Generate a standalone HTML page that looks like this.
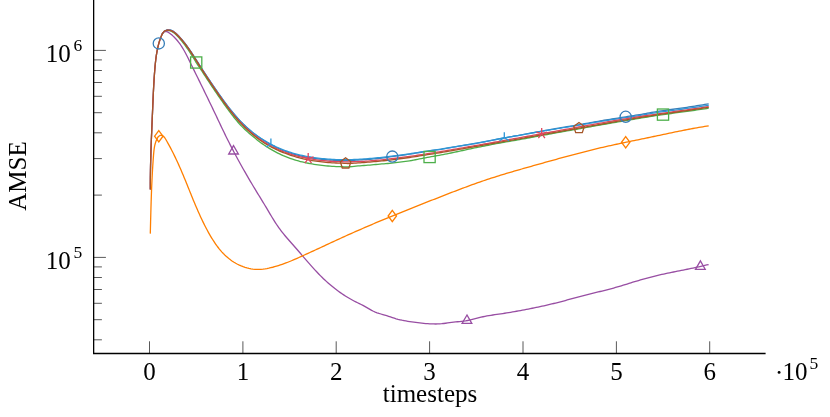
<!DOCTYPE html>
<html><head><meta charset="utf-8"><title>AMSE</title>
<style>
html,body{margin:0;padding:0;background:#fff;}
body{width:830px;height:417px;overflow:hidden;font-family:"Liberation Serif",serif;}
svg{display:block;will-change:transform}
.t{font-family:"Liberation Serif",serif;font-size:25px;fill:#000}
.s{font-family:"Liberation Serif",serif;font-size:17.5px;fill:#000}
.tk{stroke:#222;stroke-width:0.75}
.mtk{stroke:#222;stroke-width:0.75}
</style></head><body>
<svg width="830" height="417" viewBox="0 0 830 417">
<rect width="830" height="417" fill="#fff"/>
<line x1="149.5" y1="353.5" x2="149.5" y2="341.3" class="tk"/>
<line x1="242.9" y1="353.5" x2="242.9" y2="341.3" class="tk"/>
<line x1="336.2" y1="353.5" x2="336.2" y2="341.3" class="tk"/>
<line x1="429.6" y1="353.5" x2="429.6" y2="341.3" class="tk"/>
<line x1="523.0" y1="353.5" x2="523.0" y2="341.3" class="tk"/>
<line x1="616.4" y1="353.5" x2="616.4" y2="341.3" class="tk"/>
<line x1="709.7" y1="353.5" x2="709.7" y2="341.3" class="tk"/>
<line x1="93.65" y1="50.4" x2="105.9" y2="50.4" class="tk"/>
<line x1="93.65" y1="257.4" x2="105.9" y2="257.4" class="tk"/>
<line x1="93.65" y1="195.1" x2="101.9" y2="195.1" class="mtk"/>
<line x1="93.65" y1="158.6" x2="101.9" y2="158.6" class="mtk"/>
<line x1="93.65" y1="132.8" x2="101.9" y2="132.8" class="mtk"/>
<line x1="93.65" y1="112.7" x2="101.9" y2="112.7" class="mtk"/>
<line x1="93.65" y1="96.3" x2="101.9" y2="96.3" class="mtk"/>
<line x1="93.65" y1="82.5" x2="101.9" y2="82.5" class="mtk"/>
<line x1="93.65" y1="70.5" x2="101.9" y2="70.5" class="mtk"/>
<line x1="93.65" y1="59.9" x2="101.9" y2="59.9" class="mtk"/>
<line x1="93.65" y1="339.8" x2="101.9" y2="339.8" class="mtk"/>
<line x1="93.65" y1="319.7" x2="101.9" y2="319.7" class="mtk"/>
<line x1="93.65" y1="303.3" x2="101.9" y2="303.3" class="mtk"/>
<line x1="93.65" y1="289.5" x2="101.9" y2="289.5" class="mtk"/>
<line x1="93.65" y1="277.5" x2="101.9" y2="277.5" class="mtk"/>
<line x1="93.65" y1="266.9" x2="101.9" y2="266.9" class="mtk"/>
<path d="M93.65 0 L93.65 353.5 L765.6 353.5" fill="none" stroke="#000" stroke-width="1.3" stroke-linejoin="miter"/>
<g fill="none" stroke-width="1.3" stroke-linejoin="round">
<path d="M150.34 189.60 L150.33 187.61 L150.33 185.61 L150.33 183.61 L150.34 181.62 L150.35 179.62 L150.37 177.62 L150.39 175.63 L150.42 173.63 L150.45 171.64 L150.48 169.64 L150.52 167.65 L150.56 165.65 L150.61 163.66 L150.65 161.66 L150.71 159.67 L150.76 157.67 L150.82 155.68 L150.88 153.69 L150.94 151.69 L151.01 149.70 L151.08 147.70 L151.15 145.71 L151.22 143.72 L151.29 141.72 L151.37 139.73 L151.44 137.74 L151.52 135.74 L151.60 133.75 L151.69 131.75 L151.77 129.76 L151.85 127.77 L151.93 125.77 L152.02 123.78 L152.10 121.79 L152.19 119.79 L152.27 117.80 L152.36 115.80 L152.44 113.81 L152.53 111.82 L152.61 109.82 L152.70 107.83 L152.78 105.83 L152.86 103.84 L152.95 101.84 L153.03 99.85 L153.12 97.85 L153.21 95.86 L153.30 93.86 L153.40 91.87 L153.49 89.88 L153.60 87.88 L153.70 85.89 L153.81 83.90 L153.93 81.91 L154.05 79.91 L154.18 77.92 L154.31 75.93 L154.45 73.94 L154.60 71.95 L154.76 69.97 L154.92 67.98 L155.10 65.99 L155.29 64.01 L155.50 62.03 L155.72 60.05 L155.97 58.07 L156.24 56.10 L156.54 54.13 L156.88 52.16 L157.24 50.20 L157.64 48.24 L158.08 46.29 L158.57 44.35 L159.10 42.42 L159.69 40.50 L160.35 38.60 L161.07 36.71 L161.86 34.84 L162.77 33.04 L163.98 31.55 L165.62 30.55 L167.48 29.92 L169.36 29.89 L171.15 30.34 L172.87 31.16 L174.51 32.27 L176.09 33.59 L177.60 35.04 L179.06 36.55 L180.46 38.08 L181.81 39.62 L183.12 41.18 L184.39 42.76 L185.62 44.35 L186.81 45.95 L187.98 47.57 L189.11 49.19 L190.23 50.82 L191.32 52.45 L192.40 54.09 L193.47 55.73 L194.53 57.38 L195.58 59.04 L196.64 60.69 L197.69 62.35 L198.76 64.01 L199.82 65.67 L200.89 67.33 L201.97 69.00 L203.05 70.66 L204.14 72.32 L205.23 73.98 L206.32 75.64 L207.42 77.30 L208.53 78.96 L209.63 80.62 L210.75 82.27 L211.86 83.92 L212.98 85.57 L214.11 87.21 L215.23 88.86 L216.37 90.49 L217.50 92.13 L218.64 93.76 L219.78 95.38 L220.93 97.00 L222.07 98.61 L223.23 100.22 L224.39 101.82 L225.56 103.41 L226.74 104.99 L227.93 106.56 L229.13 108.13 L230.34 109.68 L231.57 111.22 L232.82 112.75 L234.08 114.26 L235.35 115.77 L236.65 117.25 L237.97 118.73 L239.31 120.18 L240.68 121.63 L242.07 123.05 L243.48 124.45 L244.91 125.84 L246.37 127.21 L247.85 128.55 L249.35 129.87 L250.87 131.16 L252.41 132.43 L253.97 133.67 L255.56 134.88 L257.16 136.05 L258.78 137.20 L260.42 138.32 L262.08 139.41 L263.76 140.49 L265.45 141.54 L267.16 142.58 L268.89 143.58 L270.63 144.57 L272.39 145.52 L274.17 146.44 L275.96 147.34 L277.76 148.19 L279.58 149.02 L281.41 149.80 L283.25 150.54 L285.11 151.24 L286.97 151.91 L288.85 152.56 L290.74 153.17 L292.64 153.76 L294.55 154.32 L296.47 154.85 L298.40 155.35 L300.33 155.83 L302.28 156.29 L304.23 156.71 L306.19 157.10 L308.15 157.45 L310.12 157.78 L312.10 158.08 L314.08 158.36 L316.07 158.62 L318.05 158.87 L320.05 159.11 L322.04 159.34 L324.04 159.55 L326.04 159.73 L328.05 159.90 L330.05 160.05 L332.05 160.18 L334.06 160.29 L336.06 160.38 L338.07 160.46 L340.07 160.52 L342.07 160.55 L344.07 160.55 L346.06 160.53 L348.06 160.49 L350.05 160.43 L352.04 160.35 L354.04 160.24 L356.03 160.12 L358.01 160.00 L360.00 159.89 L361.99 159.77 L363.97 159.65 L365.96 159.52 L367.94 159.39 L369.92 159.24 L371.91 159.08 L373.89 158.91 L375.87 158.73 L377.85 158.54 L379.83 158.33 L381.81 158.10 L383.79 157.84 L385.77 157.55 L387.75 157.24 L389.73 156.94 L391.71 156.65 L393.69 156.37 L395.67 156.09 L397.65 155.81 L399.63 155.54 L401.62 155.28 L403.60 155.01 L405.58 154.74 L407.56 154.47 L409.53 154.19 L411.51 153.89 L413.49 153.56 L415.47 153.21 L417.45 152.87 L419.42 152.54 L421.40 152.24 L423.37 151.93 L425.35 151.63 L427.32 151.32 L429.29 151.01 L431.26 150.70 L433.24 150.42 L435.21 150.16 L437.18 149.90 L439.14 149.61 L441.11 149.28 L443.08 148.94 L445.05 148.58 L447.02 148.22 L448.98 147.87 L450.95 147.53 L452.91 147.20 L454.88 146.87 L456.84 146.54 L458.81 146.22 L460.77 145.90 L462.74 145.57 L464.70 145.25 L466.67 144.92 L468.63 144.60 L470.59 144.27 L472.56 143.94 L474.52 143.60 L476.49 143.27 L478.45 142.92 L480.41 142.58 L482.38 142.22 L484.34 141.85 L486.30 141.47 L488.27 141.08 L490.23 140.68 L492.20 140.28 L494.16 139.89 L496.12 139.49 L498.09 139.10 L500.05 138.72 L502.02 138.35 L503.98 137.98 L505.95 137.63 L507.91 137.28 L509.87 136.93 L511.84 136.58 L513.80 136.23 L515.77 135.88 L517.73 135.52 L519.70 135.17 L521.66 134.82 L523.63 134.46 L525.59 134.10 L527.55 133.73 L529.52 133.36 L531.48 133.00 L533.45 132.63 L535.41 132.26 L537.38 131.90 L539.34 131.54 L541.30 131.18 L543.27 130.83 L545.23 130.48 L547.20 130.13 L549.16 129.78 L551.12 129.44 L553.09 129.09 L555.05 128.75 L557.02 128.41 L558.98 128.07 L560.94 127.73 L562.91 127.40 L564.87 127.07 L566.83 126.76 L568.80 126.44 L570.76 126.13 L572.72 125.81 L574.69 125.48 L576.65 125.15 L578.61 124.80 L580.58 124.45 L582.54 124.09 L584.50 123.74 L586.47 123.38 L588.43 123.03 L590.40 122.68 L592.36 122.33 L594.32 121.98 L596.29 121.63 L598.25 121.28 L600.22 120.93 L602.18 120.59 L604.15 120.26 L606.11 119.93 L608.08 119.61 L610.05 119.29 L612.01 118.98 L613.98 118.67 L615.95 118.36 L617.91 118.05 L619.88 117.74 L621.85 117.42 L623.82 117.11 L625.79 116.79 L627.76 116.47 L629.73 116.15 L631.70 115.84 L633.67 115.53 L635.64 115.22 L637.61 114.91 L639.58 114.60 L641.55 114.28 L643.53 113.94 L645.50 113.59 L647.47 113.23 L649.45 112.87 L651.42 112.51 L653.40 112.16 L655.37 111.81 L657.35 111.47 L659.32 111.14 L661.30 110.83 L663.28 110.54 L665.25 110.27 L667.23 110.01 L669.20 109.75 L671.18 109.50 L673.16 109.24 L675.13 108.97 L677.11 108.70 L679.08 108.42 L681.06 108.13 L683.04 107.85 L685.01 107.56 L686.99 107.27 L688.96 106.98 L690.94 106.68 L692.91 106.38 L694.89 106.07 L696.86 105.76 L698.83 105.45 L700.81 105.13 L702.78 104.80 L704.75 104.47 L706.73 104.13 L708.70 103.79" stroke="#377eb8"/>
<path d="M161.86 34.84 L162.77 33.04 L163.98 31.55 L165.62 30.55 L167.48 30.42 L169.36 30.69 L171.15 31.25 L172.87 32.14 L174.51 33.35 L176.09 34.76 L177.60 36.30 L179.06 37.89 L180.46 39.51 L181.81 41.13 L183.12 42.77 L184.39 44.42 L185.62 46.09 L186.81 47.76 L187.98 49.45 L189.11 51.14 L190.23 52.83 L191.32 54.53 L192.40 56.25 L193.47 57.98 L194.53 59.76 L195.58 61.54 L196.64 63.24 L197.69 64.86 L198.76 66.44 L199.82 68.01 L200.89 69.60 L201.97 71.23 L203.05 72.90 L204.14 74.57 L205.23 76.25 L206.32 77.92 L207.42 79.59 L208.53 81.26 L209.63 82.94 L210.75 84.61 L211.86 86.28 L212.98 87.94 L214.11 89.61 L215.23 91.28 L216.37 92.94 L217.50 94.60 L218.64 96.26 L219.78 97.91 L220.93 99.56 L222.07 101.21 L223.23 102.87 L224.39 104.52 L225.56 106.17 L226.74 107.81 L227.93 109.45 L229.13 111.08 L230.34 112.70 L231.57 114.30 L232.82 115.91 L234.08 117.51 L235.35 119.10 L236.65 120.68 L237.97 122.22 L239.31 123.73 L240.68 125.20 L242.07 126.63 L243.48 128.04 L244.91 129.42 L246.37 130.79 L247.85 132.13 L249.35 133.45 L250.87 134.75 L252.41 136.04 L253.97 137.33 L255.56 138.62 L257.16 139.89 L258.78 141.16 L260.42 142.40 L262.08 143.61 L263.76 144.78 L265.45 145.91 L267.16 147.02 L268.89 148.10 L270.63 149.15 L272.39 150.17 L274.17 151.16 L275.96 152.12 L277.76 153.05 L279.58 153.94 L281.41 154.79 L283.25 155.61 L285.11 156.39 L286.97 157.14 L288.85 157.86 L290.74 158.55 L292.64 159.21 L294.55 159.84 L296.47 160.44 L298.40 160.99 L300.33 161.51 L302.28 161.99 L304.23 162.44 L306.19 162.86 L308.15 163.25 L310.12 163.62 L312.10 163.96 L314.08 164.28 L316.07 164.58 L318.05 164.86 L320.05 165.12 L322.04 165.36 L324.04 165.59 L326.04 165.80 L328.05 165.99 L330.05 166.16 L332.05 166.32 L334.06 166.45 L336.06 166.56 L338.07 166.65 L340.07 166.72 L342.07 166.76 L344.07 166.79 L346.06 166.80 L348.06 166.80 L350.05 166.73 L352.04 166.58 L354.04 166.38 L356.03 166.15 L358.01 165.95 L360.00 165.79 L361.99 165.65 L363.97 165.51 L365.96 165.36 L367.94 165.21 L369.92 165.04 L371.91 164.87 L373.89 164.69 L375.87 164.51 L377.85 164.32 L379.83 164.13 L381.81 163.95 L383.79 163.79 L385.77 163.65 L387.75 163.50 L389.73 163.33 L391.71 163.13 L393.69 162.89 L395.67 162.61 L397.65 162.32 L399.63 162.04 L401.62 161.79 L403.60 161.54 L405.58 161.30 L407.56 161.05 L409.53 160.79 L411.51 160.49 L413.49 160.14 L415.47 159.75 L417.45 159.36 L419.42 158.96 L421.40 158.58 L423.37 158.18 L425.35 157.78 L427.32 157.39 L429.29 157.02 L431.26 156.67 L433.24 156.34 L435.21 156.00 L437.18 155.67 L439.14 155.32 L441.11 154.97 L443.08 154.59 L445.05 154.20 L447.02 153.80 L448.98 153.40 L450.95 153.00 L452.91 152.59 L454.88 152.18 L456.84 151.76 L458.81 151.34 L460.77 150.91 L462.74 150.49 L464.70 150.06 L466.67 149.63 L468.63 149.21 L470.59 148.79 L472.56 148.37 L474.52 147.96 L476.49 147.55 L478.45 147.16 L480.41 146.77 L482.38 146.39 L484.34 146.00 L486.30 145.62 L488.27 145.24 L490.23 144.86 L492.20 144.48 L494.16 144.10 L496.12 143.73 L498.09 143.36 L500.05 143.00 L502.02 142.64 L503.98 142.28 L505.95 141.94 L507.91 141.60 L509.87 141.26 L511.84 140.93 L513.80 140.59 L515.77 140.26 L517.73 139.92 L519.70 139.57 L521.66 139.22 L523.63 138.86 L525.59 138.50 L527.55 138.13 L529.52 137.76 L531.48 137.40 L533.45 137.03 L535.41 136.66 L537.38 136.30 L539.34 135.94 L541.30 135.58 L543.27 135.22 L545.23 134.87 L547.20 134.51 L549.16 134.16 L551.12 133.80 L553.09 133.45 L555.05 133.09 L557.02 132.73 L558.98 132.38 L560.94 132.02 L562.91 131.67 L564.87 131.32 L566.83 130.97 L568.80 130.63 L570.76 130.29 L572.72 129.95 L574.69 129.60 L576.65 129.25 L578.61 128.90 L580.58 128.55 L582.54 128.19 L584.50 127.84 L586.47 127.48 L588.43 127.13 L590.40 126.78 L592.36 126.43 L594.32 126.08 L596.29 125.73 L598.25 125.38 L600.22 125.03 L602.18 124.69 L604.15 124.34 L606.11 124.00 L608.08 123.65 L610.05 123.30 L612.01 122.96 L613.98 122.62 L615.95 122.27 L617.91 121.93 L619.88 121.59 L621.85 121.26 L623.82 120.92 L625.79 120.59 L627.76 120.26 L629.73 119.93 L631.70 119.60 L633.67 119.27 L635.64 118.94 L637.61 118.62 L639.58 118.29 L641.55 117.97 L643.53 117.64 L645.50 117.32 L647.47 116.99 L649.45 116.67 L651.42 116.35 L653.40 116.04 L655.37 115.72 L657.35 115.42 L659.32 115.12 L661.30 114.83 L663.28 114.54 L665.25 114.27 L667.23 114.00 L669.20 113.75 L671.18 113.49 L673.16 113.23 L675.13 112.97 L677.11 112.70 L679.08 112.43 L681.06 112.16 L683.04 111.89 L685.01 111.62 L686.99 111.35 L688.96 111.07 L690.94 110.79 L692.91 110.52 L694.89 110.24 L696.86 109.95 L698.83 109.67 L700.81 109.38 L702.78 109.09 L704.75 108.79 L706.73 108.49 L708.70 108.19" stroke="#4daf4a"/>
<path d="M161.87 34.55 L162.91 32.81 L164.24 31.63 L165.83 31.34 L167.54 31.89 L169.28 32.97 L170.96 34.27 L172.56 35.62 L174.06 37.03 L175.49 38.49 L176.84 39.99 L178.12 41.53 L179.33 43.12 L180.49 44.74 L181.59 46.39 L182.65 48.07 L183.66 49.78 L184.64 51.51 L185.59 53.26 L186.51 55.02 L187.41 56.80 L188.30 58.58 L189.19 60.37 L190.07 62.17 L190.95 63.96 L191.83 65.75 L192.71 67.54 L193.59 69.34 L194.47 71.13 L195.35 72.92 L196.23 74.72 L197.11 76.51 L198.00 78.31 L198.88 80.10 L199.76 81.90 L200.64 83.69 L201.52 85.49 L202.40 87.28 L203.27 89.08 L204.15 90.88 L205.03 92.67 L205.90 94.47 L206.78 96.27 L207.65 98.07 L208.52 99.87 L209.39 101.67 L210.26 103.47 L211.13 105.27 L211.99 107.07 L212.85 108.87 L213.71 110.68 L214.57 112.48 L215.43 114.29 L216.29 116.09 L217.14 117.90 L217.99 119.70 L218.85 121.51 L219.71 123.31 L220.56 125.12 L221.42 126.92 L222.28 128.72 L223.15 130.52 L224.02 132.32 L224.89 134.12 L225.76 135.91 L226.65 137.70 L227.53 139.49 L228.43 141.28 L229.33 143.06 L230.23 144.84 L231.14 146.62 L232.06 148.39 L232.98 150.16 L233.91 151.93 L234.85 153.69 L235.79 155.46 L236.74 157.22 L237.69 158.97 L238.64 160.73 L239.61 162.48 L240.57 164.23 L241.55 165.97 L242.52 167.72 L243.50 169.46 L244.49 171.19 L245.48 172.93 L246.48 174.66 L247.48 176.39 L248.49 178.12 L249.50 179.84 L250.51 181.56 L251.53 183.28 L252.55 185.00 L253.58 186.72 L254.61 188.43 L255.65 190.14 L256.69 191.84 L257.73 193.55 L258.77 195.25 L259.81 196.96 L260.86 198.66 L261.90 200.36 L262.94 202.07 L263.98 203.77 L265.01 205.48 L266.04 207.19 L267.07 208.90 L268.09 210.62 L269.11 212.34 L270.12 214.06 L271.14 215.78 L272.17 217.49 L273.21 219.19 L274.27 220.89 L275.35 222.57 L276.45 224.24 L277.58 225.90 L278.73 227.54 L279.91 229.16 L281.11 230.77 L282.33 232.36 L283.57 233.93 L284.84 235.47 L286.12 237.00 L287.42 238.51 L288.74 240.01 L290.06 241.50 L291.38 242.99 L292.71 244.48 L294.03 245.98 L295.34 247.48 L296.65 248.99 L297.96 250.50 L299.26 252.02 L300.57 253.54 L301.87 255.06 L303.17 256.58 L304.48 258.10 L305.78 259.61 L307.09 261.13 L308.41 262.64 L309.73 264.14 L311.05 265.64 L312.38 267.13 L313.73 268.62 L315.08 270.09 L316.44 271.55 L317.81 273.00 L319.20 274.44 L320.60 275.86 L322.01 277.27 L323.44 278.66 L324.88 280.04 L326.35 281.39 L327.83 282.73 L329.33 284.05 L330.85 285.34 L332.39 286.61 L333.94 287.86 L335.52 289.09 L337.11 290.29 L338.73 291.47 L340.36 292.63 L342.00 293.76 L343.67 294.87 L345.35 295.95 L347.05 297.00 L348.76 298.03 L350.49 299.03 L352.24 300.00 L354.00 300.95 L355.78 301.87 L357.57 302.76 L359.36 303.64 L361.16 304.53 L362.94 305.43 L364.71 306.37 L366.46 307.35 L368.19 308.36 L369.92 309.38 L371.66 310.36 L373.42 311.28 L375.23 312.11 L377.08 312.82 L378.98 313.44 L380.90 314.00 L382.83 314.54 L384.76 315.08 L386.68 315.66 L388.58 316.28 L390.48 316.92 L392.37 317.56 L394.27 318.18 L396.17 318.76 L398.09 319.29 L400.03 319.76 L401.97 320.20 L403.93 320.59 L405.89 320.95 L407.86 321.29 L409.84 321.59 L411.82 321.88 L413.81 322.15 L415.80 322.41 L417.78 322.66 L419.77 322.91 L421.76 323.13 L423.75 323.35 L425.74 323.53 L427.73 323.69 L429.72 323.83 L431.71 323.92 L433.70 323.97 L435.69 323.99 L437.68 323.95 L439.67 323.86 L441.66 323.71 L443.65 323.50 L445.64 323.25 L447.63 322.97 L449.62 322.69 L451.61 322.42 L453.61 322.18 L455.60 321.97 L457.59 321.77 L459.58 321.57 L461.56 321.36 L463.54 321.12 L465.50 320.84 L467.47 320.51 L469.42 320.11 L471.36 319.67 L473.30 319.19 L475.24 318.69 L477.18 318.18 L479.12 317.68 L481.06 317.20 L483.01 316.75 L484.97 316.35 L486.93 315.97 L488.90 315.62 L490.87 315.30 L492.85 314.99 L494.83 314.69 L496.81 314.41 L498.78 314.13 L500.76 313.84 L502.74 313.55 L504.72 313.25 L506.69 312.94 L508.66 312.62 L510.63 312.29 L512.60 311.95 L514.57 311.61 L516.53 311.26 L518.50 310.91 L520.46 310.54 L522.43 310.18 L524.39 309.81 L526.35 309.43 L528.31 309.05 L530.27 308.66 L532.23 308.26 L534.19 307.86 L536.15 307.46 L538.10 307.04 L540.06 306.62 L542.01 306.20 L543.96 305.77 L545.91 305.33 L547.86 304.88 L549.81 304.43 L551.75 303.97 L553.69 303.50 L555.63 303.02 L557.57 302.53 L559.51 302.04 L561.44 301.54 L563.37 301.03 L565.30 300.51 L567.23 299.99 L569.16 299.46 L571.08 298.93 L573.01 298.40 L574.93 297.87 L576.86 297.34 L578.79 296.81 L580.71 296.29 L582.64 295.77 L584.57 295.26 L586.51 294.77 L588.45 294.28 L590.39 293.80 L592.33 293.33 L594.27 292.87 L596.22 292.42 L598.16 291.96 L600.11 291.50 L602.05 291.03 L603.99 290.56 L605.93 290.08 L607.87 289.59 L609.80 289.08 L611.73 288.55 L613.65 288.01 L615.57 287.46 L617.49 286.91 L619.41 286.34 L621.32 285.76 L623.24 285.18 L625.15 284.60 L627.06 284.01 L628.97 283.42 L630.88 282.83 L632.79 282.24 L634.71 281.66 L636.62 281.08 L638.53 280.51 L640.45 279.94 L642.37 279.38 L644.29 278.84 L646.22 278.30 L648.14 277.78 L650.08 277.27 L652.01 276.78 L653.95 276.30 L655.89 275.83 L657.84 275.37 L659.78 274.92 L661.73 274.49 L663.68 274.06 L665.64 273.63 L667.59 273.22 L669.55 272.81 L671.51 272.40 L673.46 272.00 L675.42 271.61 L677.38 271.21 L679.34 270.82 L681.30 270.43 L683.26 270.03 L685.22 269.64 L687.18 269.24 L689.14 268.85 L691.10 268.44 L693.05 268.04 L695.01 267.62 L696.96 267.21 L698.91 266.78 L700.86 266.35 L702.80 265.90 L704.75 265.45 L706.69 264.99 L708.62 264.51" stroke="#984ea3"/>
<path d="M161.86 34.84 L162.77 33.04 L163.98 31.55 L165.62 30.55 L167.48 29.85 L169.36 29.79 L171.15 30.24 L172.87 31.06 L174.51 32.17 L176.09 33.49 L177.60 34.94 L179.06 36.45 L180.46 37.98 L181.81 39.52 L183.12 41.08 L184.39 42.66 L185.62 44.25 L186.81 45.85 L187.98 47.47 L189.11 49.09 L190.23 50.71 L191.32 52.34 L192.40 53.98 L193.47 55.62 L194.53 57.27 L195.58 58.92 L196.64 60.57 L197.69 62.22 L198.76 63.88 L199.82 65.54 L200.89 67.20 L201.97 68.86 L203.05 70.52 L204.14 72.17 L205.23 73.83 L206.32 75.49 L207.42 77.15 L208.53 78.80 L209.63 80.45 L210.75 82.10 L211.86 83.75 L212.98 85.39 L214.11 87.04 L215.23 88.67 L216.37 90.31 L217.50 91.94 L218.64 93.56 L219.78 95.18 L220.93 96.80 L222.07 98.41 L223.23 100.01 L224.39 101.60 L225.56 103.19 L226.74 104.77 L227.93 106.34 L229.13 107.90 L230.34 109.45 L231.57 110.98 L232.82 112.51 L234.08 114.02 L235.35 115.52 L236.65 117.00 L237.97 118.47 L239.31 119.92 L240.68 121.36 L242.07 122.78 L243.48 124.18 L244.91 125.57 L246.37 126.93 L247.85 128.27 L249.35 129.58 L250.87 130.87 L252.41 132.13 L253.97 133.36 L255.56 134.54 L257.16 135.70 L258.78 136.83 L260.42 137.93 L262.08 139.02 L263.76 140.09 L265.45 141.14 L267.16 142.16 L268.89 143.14 L270.63 144.09 L272.39 145.01 L274.17 145.89 L275.96 146.74 L277.76 147.56 L279.58 148.35 L281.41 149.11 L283.25 149.84 L285.11 150.54 L286.97 151.21 L288.85 151.85 L290.74 152.45 L292.64 153.03 L294.55 153.57 L296.47 154.09 L298.40 154.58 L300.33 155.05 L302.28 155.49 L304.23 155.90 L306.19 156.28 L308.15 156.63 L310.12 156.96 L312.10 157.27 L314.08 157.55 L316.07 157.82 L318.05 158.07 L320.05 158.31 L322.04 158.54 L324.04 158.75 L326.04 158.93 L328.05 159.10 L330.05 159.25 L332.05 159.38 L334.06 159.49 L336.06 159.58 L338.07 159.66 L340.07 159.72 L342.07 159.75 L344.07 159.75 L346.06 159.73 L348.06 159.70 L350.05 159.65 L352.04 159.58 L354.04 159.50 L356.03 159.40 L358.01 159.30 L360.00 159.19 L361.99 159.07 L363.97 158.94 L365.96 158.80 L367.94 158.65 L369.92 158.49 L371.91 158.32 L373.89 158.14 L375.87 157.95 L377.85 157.75 L379.83 157.53 L381.81 157.30 L383.79 157.06 L385.77 156.80 L387.75 156.54 L389.73 156.28 L391.71 156.03 L393.69 155.79 L395.67 155.55 L397.65 155.30 L399.63 155.04 L401.62 154.79 L403.60 154.54 L405.58 154.30 L407.56 154.05 L409.53 153.79 L411.51 153.50 L413.49 153.19 L415.47 152.87 L417.45 152.55 L419.42 152.24 L421.40 151.94 L423.37 151.65 L425.35 151.36 L427.32 151.08 L429.29 150.80 L431.26 150.51 L433.24 150.24 L435.21 149.98 L437.18 149.70 L439.14 149.41 L441.11 149.09 L443.08 148.76 L445.05 148.43 L447.02 148.10 L448.98 147.76 L450.95 147.43 L452.91 147.10 L454.88 146.77 L456.84 146.44 L458.81 146.12 L460.77 145.80 L462.74 145.47 L464.70 145.15 L466.67 144.82 L468.63 144.50 L470.59 144.17 L472.56 143.84 L474.52 143.50 L476.49 143.17 L478.45 142.82 L480.41 142.48 L482.38 142.12 L484.34 141.75 L486.30 141.37 L488.27 140.98 L490.23 140.58 L492.20 140.18 L494.16 139.79 L496.12 139.39 L498.09 139.00 L500.05 138.62 L502.02 138.25 L503.98 137.88 L505.95 137.54 L507.91 137.21 L509.87 136.89 L511.84 136.57 L513.80 136.26 L515.77 135.94 L517.73 135.61 L519.70 135.27 L521.66 134.92 L523.63 134.57 L525.59 134.21 L527.55 133.86 L529.52 133.51 L531.48 133.15 L533.45 132.80 L535.41 132.44 L537.38 132.09 L539.34 131.74 L541.30 131.38 L543.27 131.03 L545.23 130.68 L547.20 130.34 L549.16 130.01 L551.12 129.67 L553.09 129.34 L555.05 129.02 L557.02 128.69 L558.98 128.36 L560.94 128.03 L562.91 127.71 L564.87 127.39 L566.83 127.08 L568.80 126.77 L570.76 126.46 L572.72 126.15 L574.69 125.84 L576.65 125.52 L578.61 125.20 L580.58 124.87 L582.54 124.53 L584.50 124.20 L586.47 123.86 L588.43 123.52 L590.40 123.19 L592.36 122.85 L594.32 122.52 L596.29 122.19 L598.25 121.86 L600.22 121.54 L602.18 121.22 L604.15 120.90 L606.11 120.59 L608.08 120.29 L610.05 119.98 L612.01 119.68 L613.98 119.38 L615.95 119.08 L617.91 118.79 L619.88 118.49 L621.85 118.19 L623.82 117.89 L625.79 117.59 L627.76 117.29 L629.73 117.00 L631.70 116.70 L633.67 116.41 L635.64 116.11 L637.61 115.81 L639.58 115.50 L641.55 115.18 L643.53 114.85 L645.50 114.51 L647.47 114.16 L649.45 113.82 L651.42 113.47 L653.40 113.13 L655.37 112.79 L657.35 112.46 L659.32 112.14 L661.30 111.83 L663.28 111.54 L665.25 111.28 L667.23 111.03 L669.20 110.79 L671.18 110.55 L673.16 110.32 L675.13 110.07 L677.11 109.80 L679.08 109.53 L681.06 109.26 L683.04 108.99 L685.01 108.72 L686.99 108.45 L688.96 108.18 L690.94 107.90 L692.91 107.62 L694.89 107.34 L696.86 107.05 L698.83 106.77 L700.81 106.48 L702.78 106.19 L704.75 105.89 L706.73 105.59 L708.70 105.29" stroke="#2e96d6"/>
<path d="M150.34 189.60 L150.33 187.61 L150.33 185.61 L150.33 183.61 L150.34 181.62 L150.35 179.62 L150.37 177.62 L150.39 175.63 L150.42 173.63 L150.45 171.64 L150.48 169.64 L150.52 167.65 L150.56 165.65 L150.61 163.66 L150.65 161.66 L150.71 159.67 L150.76 157.67 L150.82 155.68 L150.88 153.69 L150.94 151.69 L151.01 149.70 L151.08 147.70 L151.15 145.71 L151.22 143.72 L151.29 141.72 L151.37 139.73 L151.44 137.74 L151.52 135.74 L151.60 133.75 L151.69 131.75 L151.77 129.76 L151.85 127.77 L151.93 125.77 L152.02 123.78 L152.10 121.79 L152.19 119.79 L152.27 117.80 L152.36 115.80 L152.44 113.81 L152.53 111.82 L152.61 109.82 L152.70 107.83 L152.78 105.83 L152.86 103.84 L152.95 101.84 L153.03 99.85 L153.12 97.85 L153.21 95.86 L153.30 93.86 L153.40 91.87 L153.49 89.88 L153.60 87.88 L153.70 85.89 L153.81 83.90 L153.93 81.91 L154.05 79.91 L154.18 77.92 L154.31 75.93 L154.45 73.94 L154.60 71.95 L154.76 69.97 L154.92 67.98 L155.10 65.99 L155.29 64.01 L155.50 62.03 L155.72 60.05 L155.97 58.07 L156.24 56.10 L156.54 54.13 L156.88 52.16 L157.24 50.20 L157.64 48.24 L158.08 46.29 L158.57 44.35 L159.10 42.42 L159.69 40.50 L160.35 38.60 L161.07 36.71 L161.86 34.84 L162.77 33.04 L163.98 31.55 L165.62 30.55 L167.48 30.07 L169.36 30.09 L171.15 30.54 L172.87 31.36 L174.51 32.47 L176.09 33.79 L177.60 35.24 L179.06 36.75 L180.46 38.28 L181.81 39.82 L183.12 41.38 L184.39 42.96 L185.62 44.55 L186.81 46.15 L187.98 47.77 L189.11 49.39 L190.23 51.03 L191.32 52.67 L192.40 54.32 L193.47 55.98 L194.53 57.65 L195.58 59.32 L196.64 60.99 L197.69 62.66 L198.76 64.34 L199.82 66.01 L200.89 67.69 L201.97 69.37 L203.05 71.05 L204.14 72.73 L205.23 74.40 L206.32 76.08 L207.42 77.75 L208.53 79.43 L209.63 81.10 L210.75 82.77 L211.86 84.44 L212.98 86.10 L214.11 87.76 L215.23 89.42 L216.37 91.08 L217.50 92.73 L218.64 94.37 L219.78 96.01 L220.93 97.65 L222.07 99.28 L223.23 100.90 L224.39 102.51 L225.56 104.12 L226.74 105.72 L227.93 107.31 L229.13 108.89 L230.34 110.46 L231.57 112.02 L232.82 113.57 L234.08 115.10 L235.35 116.62 L236.65 118.13 L237.97 119.62 L239.31 121.10 L240.68 122.56 L242.07 124.00 L243.48 125.43 L244.91 126.84 L246.37 128.22 L247.85 129.59 L249.35 130.93 L250.87 132.25 L252.41 133.54 L253.97 134.81 L255.56 136.04 L257.16 137.26 L258.78 138.44 L260.42 139.59 L262.08 140.70 L263.76 141.79 L265.45 142.84 L267.16 143.86 L268.89 144.84 L270.63 145.79 L272.39 146.71 L274.17 147.59 L275.96 148.44 L277.76 149.26 L279.58 150.05 L281.41 150.81 L283.25 151.54 L285.11 152.24 L286.97 152.91 L288.85 153.56 L290.74 154.17 L292.64 154.76 L294.55 155.32 L296.47 155.85 L298.40 156.35 L300.33 156.83 L302.28 157.29 L304.23 157.72 L306.19 158.12 L308.15 158.51 L310.12 158.86 L312.10 159.20 L314.08 159.51 L316.07 159.80 L318.05 160.07 L320.05 160.31 L322.04 160.54 L324.04 160.75 L326.04 160.93 L328.05 161.10 L330.05 161.25 L332.05 161.38 L334.06 161.49 L336.06 161.58 L338.07 161.66 L340.07 161.72 L342.07 161.76 L344.07 161.79 L346.06 161.80 L348.06 161.80 L350.05 161.78 L352.04 161.75 L354.04 161.70 L356.03 161.64 L358.01 161.57 L360.00 161.49 L361.99 161.39 L363.97 161.28 L365.96 161.16 L367.94 161.03 L369.92 160.89 L371.91 160.73 L373.89 160.57 L375.87 160.40 L377.85 160.22 L379.83 160.03 L381.81 159.83 L383.79 159.63 L385.77 159.41 L387.75 159.19 L389.73 158.97 L391.71 158.73 L393.69 158.49 L395.67 158.25 L397.65 158.00 L399.63 157.74 L401.62 157.48 L403.60 157.21 L405.58 156.94 L407.56 156.67 L409.53 156.39 L411.51 156.11 L413.49 155.82 L415.47 155.53 L417.45 155.23 L419.42 154.94 L421.40 154.64 L423.37 154.33 L425.35 154.03 L427.32 153.72 L429.29 153.41 L431.26 153.09 L433.24 152.77 L435.21 152.46 L437.18 152.13 L439.14 151.81 L441.11 151.49 L443.08 151.16 L445.05 150.83 L447.02 150.50 L448.98 150.16 L450.95 149.83 L452.91 149.49 L454.88 149.16 L456.84 148.82 L458.81 148.48 L460.77 148.14 L462.74 147.79 L464.70 147.45 L466.67 147.11 L468.63 146.76 L470.59 146.42 L472.56 146.07 L474.52 145.72 L476.49 145.37 L478.45 145.03 L480.41 144.68 L482.38 144.33 L484.34 143.98 L486.30 143.63 L488.27 143.28 L490.23 142.93 L492.20 142.58 L494.16 142.24 L496.12 141.89 L498.09 141.54 L500.05 141.19 L502.02 140.83 L503.98 140.48 L505.95 140.13 L507.91 139.78 L509.87 139.43 L511.84 139.08 L513.80 138.73 L515.77 138.38 L517.73 138.02 L519.70 137.67 L521.66 137.32 L523.63 136.97 L525.59 136.61 L527.55 136.26 L529.52 135.91 L531.48 135.55 L533.45 135.20 L535.41 134.84 L537.38 134.49 L539.34 134.14 L541.30 133.78 L543.27 133.42 L545.23 133.07 L547.20 132.71 L549.16 132.36 L551.12 132.00 L553.09 131.65 L555.05 131.29 L557.02 130.93 L558.98 130.58 L560.94 130.22 L562.91 129.86 L564.87 129.50 L566.83 129.14 L568.80 128.79 L570.76 128.43 L572.72 128.07 L574.69 127.72 L576.65 127.36 L578.61 127.00 L580.58 126.65 L582.54 126.29 L584.50 125.94 L586.47 125.58 L588.43 125.23 L590.40 124.88 L592.36 124.53 L594.32 124.18 L596.29 123.83 L598.25 123.48 L600.22 123.13 L602.18 122.79 L604.15 122.45 L606.11 122.10 L608.08 121.76 L610.05 121.43 L612.01 121.09 L613.98 120.75 L615.95 120.42 L617.91 120.09 L619.88 119.76 L621.85 119.44 L623.82 119.11 L625.79 118.79 L627.76 118.47 L629.73 118.15 L631.70 117.84 L633.67 117.53 L635.64 117.22 L637.61 116.91 L639.58 116.61 L641.55 116.31 L643.53 116.01 L645.50 115.72 L647.47 115.42 L649.45 115.13 L651.42 114.84 L653.40 114.56 L655.37 114.27 L657.35 113.99 L659.32 113.71 L661.30 113.42 L663.28 113.14 L665.25 112.86 L667.23 112.59 L669.20 112.31 L671.18 112.03 L673.16 111.75 L675.13 111.47 L677.11 111.20 L679.08 110.92 L681.06 110.64 L683.04 110.36 L685.01 110.08 L686.99 109.80 L688.96 109.51 L690.94 109.23 L692.91 108.94 L694.89 108.66 L696.86 108.37 L698.83 108.08 L700.81 107.78 L702.78 107.49 L704.75 107.19 L706.73 106.89 L708.70 106.59" stroke="#e0465e"/>
<path d="M150.34 189.60 L150.33 187.61 L150.33 185.61 L150.33 183.61 L150.34 181.62 L150.35 179.62 L150.37 177.62 L150.39 175.63 L150.42 173.63 L150.45 171.64 L150.48 169.64 L150.52 167.65 L150.56 165.65 L150.61 163.66 L150.65 161.66 L150.71 159.67 L150.76 157.67 L150.82 155.68 L150.88 153.69 L150.94 151.69 L151.01 149.70 L151.08 147.70 L151.15 145.71 L151.22 143.72 L151.29 141.72 L151.37 139.73 L151.44 137.74 L151.52 135.74 L151.60 133.75 L151.69 131.75 L151.77 129.76 L151.85 127.77 L151.93 125.77 L152.02 123.78 L152.10 121.79 L152.19 119.79 L152.27 117.80 L152.36 115.80 L152.44 113.81 L152.53 111.82 L152.61 109.82 L152.70 107.83 L152.78 105.83 L152.86 103.84 L152.95 101.84 L153.03 99.85 L153.12 97.85 L153.21 95.86 L153.30 93.86 L153.40 91.87 L153.49 89.88 L153.60 87.88 L153.70 85.89 L153.81 83.90 L153.93 81.91 L154.05 79.91 L154.18 77.92 L154.31 75.93 L154.45 73.94 L154.60 71.95 L154.76 69.97 L154.92 67.98 L155.10 65.99 L155.29 64.01 L155.50 62.03 L155.72 60.05 L155.97 58.07 L156.24 56.10 L156.54 54.13 L156.88 52.16 L157.24 50.20 L157.64 48.24 L158.08 46.29 L158.57 44.35 L159.10 42.42 L159.69 40.50 L160.35 38.60 L161.07 36.71 L161.86 34.84 L162.77 33.04 L163.98 31.55 L165.62 30.55 L167.48 30.22 L169.36 30.29 L171.15 30.74 L172.87 31.56 L174.51 32.67 L176.09 33.99 L177.60 35.44 L179.06 36.95 L180.46 38.48 L181.81 40.02 L183.12 41.58 L184.39 43.16 L185.62 44.75 L186.81 46.35 L187.98 47.97 L189.11 49.59 L190.23 51.23 L191.32 52.88 L192.40 54.54 L193.47 56.21 L194.53 57.88 L195.58 59.56 L196.64 61.24 L197.69 62.92 L198.76 64.61 L199.82 66.29 L200.89 67.98 L201.97 69.67 L203.05 71.35 L204.14 73.04 L205.23 74.73 L206.32 76.41 L207.42 78.10 L208.53 79.78 L209.63 81.46 L210.75 83.14 L211.86 84.81 L212.98 86.49 L214.11 88.16 L215.23 89.83 L216.37 91.49 L217.50 93.15 L218.64 94.80 L219.78 96.45 L220.93 98.10 L222.07 99.73 L223.23 101.37 L224.39 102.99 L225.56 104.61 L226.74 106.22 L227.93 107.82 L229.13 109.41 L230.34 110.99 L231.57 112.56 L232.82 114.11 L234.08 115.66 L235.35 117.19 L236.65 118.71 L237.97 120.21 L239.31 121.70 L240.68 123.17 L242.07 124.62 L243.48 126.06 L244.91 127.48 L246.37 128.87 L247.85 130.25 L249.35 131.60 L250.87 132.93 L252.41 134.24 L253.97 135.53 L255.56 136.80 L257.16 138.04 L258.78 139.26 L260.42 140.44 L262.08 141.58 L263.76 142.69 L265.45 143.75 L267.16 144.78 L268.89 145.77 L270.63 146.73 L272.39 147.65 L274.17 148.54 L275.96 149.40 L277.76 150.23 L279.58 151.03 L281.41 151.80 L283.25 152.54 L285.11 153.25 L286.97 153.95 L288.85 154.62 L290.74 155.27 L292.64 155.90 L294.55 156.50 L296.47 157.07 L298.40 157.61 L300.33 158.12 L302.28 158.59 L304.23 159.04 L306.19 159.46 L308.15 159.86 L310.12 160.23 L312.10 160.57 L314.08 160.90 L316.07 161.19 L318.05 161.47 L320.05 161.71 L322.04 161.94 L324.04 162.15 L326.04 162.33 L328.05 162.50 L330.05 162.65 L332.05 162.78 L334.06 162.89 L336.06 162.98 L338.07 163.06 L340.07 163.12 L342.07 163.21 L344.07 163.34 L346.06 163.45 L348.06 163.50 L350.05 163.45 L352.04 163.36 L354.04 163.22 L356.03 163.07 L358.01 162.92 L360.00 162.79 L361.99 162.66 L363.97 162.52 L365.96 162.37 L367.94 162.21 L369.92 162.05 L371.91 161.88 L373.89 161.70 L375.87 161.51 L377.85 161.32 L379.83 161.13 L381.81 160.93 L383.79 160.73 L385.77 160.51 L387.75 160.29 L389.73 160.07 L391.71 159.83 L393.69 159.59 L395.67 159.31 L397.65 159.02 L399.63 158.74 L401.62 158.49 L403.60 158.24 L405.58 158.00 L407.56 157.75 L409.53 157.49 L411.51 157.20 L413.49 156.89 L415.47 156.57 L417.45 156.25 L419.42 155.94 L421.40 155.64 L423.37 155.33 L425.35 155.03 L427.32 154.72 L429.29 154.41 L431.26 154.09 L433.24 153.77 L435.21 153.46 L437.18 153.13 L439.14 152.81 L441.11 152.49 L443.08 152.16 L445.05 151.83 L447.02 151.50 L448.98 151.16 L450.95 150.83 L452.91 150.49 L454.88 150.16 L456.84 149.82 L458.81 149.48 L460.77 149.14 L462.74 148.79 L464.70 148.45 L466.67 148.11 L468.63 147.76 L470.59 147.42 L472.56 147.07 L474.52 146.72 L476.49 146.37 L478.45 146.03 L480.41 145.68 L482.38 145.33 L484.34 144.98 L486.30 144.63 L488.27 144.28 L490.23 143.93 L492.20 143.58 L494.16 143.24 L496.12 142.89 L498.09 142.54 L500.05 142.19 L502.02 141.83 L503.98 141.48 L505.95 141.14 L507.91 140.80 L509.87 140.46 L511.84 140.13 L513.80 139.79 L515.77 139.46 L517.73 139.12 L519.70 138.77 L521.66 138.42 L523.63 138.07 L525.59 137.71 L527.55 137.36 L529.52 137.01 L531.48 136.65 L533.45 136.30 L535.41 135.94 L537.38 135.59 L539.34 135.24 L541.30 134.88 L543.27 134.52 L545.23 134.17 L547.20 133.81 L549.16 133.46 L551.12 133.10 L553.09 132.75 L555.05 132.39 L557.02 132.03 L558.98 131.68 L560.94 131.32 L562.91 130.97 L564.87 130.62 L566.83 130.27 L568.80 129.93 L570.76 129.59 L572.72 129.25 L574.69 128.90 L576.65 128.55 L578.61 128.20 L580.58 127.85 L582.54 127.49 L584.50 127.14 L586.47 126.78 L588.43 126.43 L590.40 126.08 L592.36 125.73 L594.32 125.38 L596.29 125.03 L598.25 124.68 L600.22 124.33 L602.18 123.99 L604.15 123.64 L606.11 123.30 L608.08 122.95 L610.05 122.60 L612.01 122.26 L613.98 121.92 L615.95 121.57 L617.91 121.23 L619.88 120.89 L621.85 120.56 L623.82 120.22 L625.79 119.89 L627.76 119.56 L629.73 119.22 L631.70 118.89 L633.67 118.56 L635.64 118.24 L637.61 117.92 L639.58 117.60 L641.55 117.28 L643.53 116.96 L645.50 116.64 L647.47 116.33 L649.45 116.02 L651.42 115.71 L653.40 115.41 L655.37 115.10 L657.35 114.81 L659.32 114.51 L661.30 114.23 L663.28 113.94 L665.25 113.66 L667.23 113.39 L669.20 113.11 L671.18 112.83 L673.16 112.55 L675.13 112.27 L677.11 112.00 L679.08 111.72 L681.06 111.44 L683.04 111.15 L685.01 110.87 L686.99 110.58 L688.96 110.30 L690.94 110.01 L692.91 109.71 L694.89 109.42 L696.86 109.12 L698.83 108.83 L700.81 108.52 L702.78 108.22 L704.75 107.91 L706.73 107.60 L708.70 107.29" stroke="#a65628"/>
<path d="M150.30 233.61 L150.35 231.60 L150.40 229.59 L150.45 227.58 L150.50 225.57 L150.55 223.57 L150.60 221.57 L150.65 219.57 L150.71 217.57 L150.76 215.57 L150.81 213.57 L150.86 211.57 L150.92 209.58 L150.97 207.58 L151.03 205.59 L151.09 203.59 L151.15 201.60 L151.22 199.61 L151.28 197.62 L151.35 195.62 L151.42 193.63 L151.49 191.64 L151.57 189.65 L151.65 187.65 L151.73 185.66 L151.82 183.67 L151.91 181.67 L152.00 179.68 L152.10 177.68 L152.20 175.69 L152.31 173.69 L152.42 171.69 L152.53 169.69 L152.66 167.69 L152.78 165.69 L152.91 163.68 L153.05 161.68 L153.19 159.67 L153.34 157.66 L153.49 155.65 L153.65 153.64 L153.84 151.63 L154.06 149.63 L154.34 147.64 L154.71 145.67 L155.18 143.73 L155.77 141.82 L156.50 139.95 L157.39 138.13 L158.49 136.46 L159.98 135.45 L161.72 135.41 L163.39 136.31 L164.74 137.76 L165.84 139.48 L166.86 141.27 L167.87 143.06 L168.86 144.85 L169.82 146.64 L170.77 148.42 L171.70 150.21 L172.62 152.00 L173.52 153.80 L174.40 155.59 L175.27 157.39 L176.13 159.19 L176.97 160.99 L177.81 162.80 L178.63 164.61 L179.44 166.43 L180.24 168.25 L181.03 170.08 L181.81 171.91 L182.59 173.74 L183.36 175.58 L184.12 177.42 L184.88 179.26 L185.64 181.11 L186.39 182.96 L187.14 184.81 L187.89 186.66 L188.63 188.51 L189.38 190.37 L190.13 192.22 L190.88 194.07 L191.63 195.93 L192.38 197.78 L193.14 199.63 L193.91 201.48 L194.67 203.33 L195.45 205.17 L196.23 207.01 L197.02 208.85 L197.82 210.69 L198.63 212.52 L199.45 214.35 L200.28 216.17 L201.12 217.99 L201.98 219.81 L202.85 221.61 L203.73 223.41 L204.63 225.21 L205.54 227.00 L206.47 228.78 L207.42 230.55 L208.39 232.32 L209.38 234.08 L210.38 235.82 L211.41 237.55 L212.47 239.27 L213.55 240.96 L214.66 242.64 L215.80 244.29 L216.96 245.91 L218.17 247.50 L219.40 249.06 L220.68 250.58 L221.99 252.07 L223.33 253.51 L224.73 254.91 L226.16 256.27 L227.64 257.58 L229.16 258.83 L230.73 260.03 L232.35 261.18 L234.03 262.26 L235.75 263.28 L237.53 264.24 L239.35 265.13 L241.22 265.95 L243.12 266.69 L245.05 267.35 L247.01 267.92 L248.99 268.41 L250.98 268.81 L252.98 269.11 L254.99 269.31 L256.99 269.41 L258.99 269.41 L260.98 269.30 L262.96 269.11 L264.93 268.85 L266.89 268.52 L268.84 268.14 L270.77 267.71 L272.70 267.25 L274.62 266.74 L276.53 266.19 L278.43 265.61 L280.33 264.99 L282.21 264.34 L284.09 263.67 L285.96 262.97 L287.83 262.24 L289.69 261.49 L291.54 260.73 L293.39 259.94 L295.24 259.15 L297.08 258.34 L298.91 257.52 L300.74 256.69 L302.57 255.86 L304.40 255.03 L306.23 254.20 L308.05 253.36 L309.87 252.52 L311.69 251.68 L313.51 250.84 L315.32 250.00 L317.14 249.16 L318.95 248.32 L320.76 247.48 L322.58 246.63 L324.39 245.79 L326.20 244.95 L328.01 244.11 L329.82 243.27 L331.63 242.43 L333.44 241.59 L335.26 240.75 L337.07 239.91 L338.88 239.08 L340.70 238.25 L342.51 237.42 L344.33 236.59 L346.15 235.77 L347.97 234.95 L349.79 234.13 L351.62 233.31 L353.44 232.50 L355.27 231.69 L357.10 230.88 L358.93 230.08 L360.77 229.28 L362.60 228.48 L364.44 227.68 L366.27 226.89 L368.11 226.10 L369.95 225.31 L371.79 224.53 L373.64 223.75 L375.48 222.97 L377.33 222.19 L379.17 221.41 L381.02 220.64 L382.87 219.87 L384.71 219.10 L386.56 218.33 L388.41 217.57 L390.26 216.81 L392.11 216.05 L393.97 215.29 L395.82 214.54 L397.67 213.78 L399.52 213.03 L401.38 212.28 L403.23 211.53 L405.09 210.79 L406.94 210.04 L408.80 209.30 L410.65 208.55 L412.51 207.81 L414.37 207.07 L416.22 206.34 L418.08 205.60 L419.94 204.86 L421.80 204.13 L423.66 203.40 L425.52 202.66 L427.38 201.93 L429.24 201.20 L431.10 200.47 L432.96 199.74 L434.82 199.02 L436.69 198.29 L438.55 197.56 L440.41 196.83 L442.28 196.11 L444.14 195.38 L446.00 194.66 L447.87 193.93 L449.73 193.21 L451.60 192.48 L453.47 191.76 L455.33 191.04 L457.20 190.33 L459.07 189.61 L460.94 188.90 L462.81 188.19 L464.69 187.49 L466.56 186.79 L468.44 186.09 L470.32 185.40 L472.20 184.72 L474.08 184.04 L475.96 183.37 L477.85 182.70 L479.73 182.04 L481.63 181.39 L483.52 180.75 L485.41 180.11 L487.31 179.48 L489.21 178.85 L491.11 178.23 L493.01 177.62 L494.92 177.02 L496.83 176.42 L498.73 175.82 L500.64 175.23 L502.55 174.64 L504.47 174.06 L506.38 173.49 L508.30 172.91 L510.21 172.34 L512.13 171.78 L514.05 171.22 L515.97 170.66 L517.89 170.10 L519.82 169.55 L521.74 169.00 L523.66 168.45 L525.59 167.90 L527.51 167.36 L529.43 166.81 L531.36 166.27 L533.29 165.73 L535.21 165.19 L537.14 164.65 L539.06 164.11 L540.99 163.57 L542.92 163.03 L544.84 162.49 L546.77 161.95 L548.70 161.41 L550.62 160.88 L552.55 160.34 L554.48 159.80 L556.40 159.27 L558.33 158.74 L560.26 158.21 L562.19 157.68 L564.12 157.15 L566.05 156.62 L567.98 156.10 L569.91 155.58 L571.84 155.06 L573.77 154.55 L575.71 154.03 L577.64 153.53 L579.57 153.02 L581.51 152.52 L583.45 152.02 L585.38 151.53 L587.32 151.04 L589.26 150.55 L591.20 150.07 L593.14 149.59 L595.09 149.12 L597.03 148.65 L598.98 148.19 L600.92 147.74 L602.87 147.29 L604.82 146.84 L606.77 146.40 L608.72 145.96 L610.67 145.53 L612.63 145.10 L614.58 144.68 L616.54 144.26 L618.49 143.84 L620.45 143.43 L622.41 143.01 L624.36 142.60 L626.32 142.19 L628.28 141.79 L630.24 141.38 L632.20 140.98 L634.16 140.57 L636.12 140.17 L638.08 139.77 L640.04 139.36 L642.00 138.96 L643.96 138.56 L645.91 138.15 L647.87 137.74 L649.83 137.33 L651.79 136.92 L653.75 136.51 L655.70 136.10 L657.66 135.69 L659.61 135.27 L661.57 134.86 L663.53 134.44 L665.48 134.03 L667.44 133.62 L669.40 133.20 L671.35 132.79 L673.31 132.39 L675.27 131.98 L677.23 131.58 L679.19 131.18 L681.15 130.78 L683.11 130.39 L685.07 130.01 L687.03 129.62 L688.99 129.25 L690.96 128.87 L692.92 128.51 L694.89 128.15 L696.86 127.79 L698.83 127.45 L700.80 127.11 L702.78 126.78 L704.75 126.45 L706.73 126.14 L708.71 125.83" stroke="#ff7f00"/>
</g>
<g stroke-width="1.3">
<circle cx="158.8" cy="43.4" r="5.60" fill="none" stroke="#377eb8"/>
<circle cx="392.3" cy="156.6" r="5.60" fill="none" stroke="#377eb8"/>
<circle cx="625.7" cy="116.8" r="5.60" fill="none" stroke="#377eb8"/>
<rect x="190.6" y="56.9" width="11.2" height="11.2" fill="none" stroke="#4daf4a"/>
<rect x="424.0" y="151.4" width="11.2" height="11.2" fill="none" stroke="#4daf4a"/>
<rect x="657.4" y="109.0" width="11.2" height="11.2" fill="none" stroke="#4daf4a"/>
<path d="M233.5 145.6 L228.7 154.0 L238.4 154.0Z" fill="none" stroke="#984ea3" stroke-linejoin="miter"/>
<path d="M467.0 315.0 L462.1 323.4 L471.8 323.4Z" fill="none" stroke="#984ea3" stroke-linejoin="miter"/>
<path d="M700.4 260.9 L695.5 269.3 L705.2 269.3Z" fill="none" stroke="#984ea3" stroke-linejoin="miter"/>
<path d="M270.9 144.2 L270.9 138.6 M270.9 144.2 L266.0 147.0 M270.9 144.2 L275.7 147.0" fill="none" stroke="#2e96d6"/>
<path d="M504.3 137.8 L504.3 132.2 M504.3 137.8 L499.5 140.6 M504.3 137.8 L509.2 140.6" fill="none" stroke="#2e96d6"/>
<path d="M308.2 158.5 L308.2 152.9 M308.2 158.5 L302.9 156.8 M308.2 158.5 L304.9 163.1 M308.2 158.5 L311.5 163.1 M308.2 158.5 L313.6 156.8" fill="none" stroke="#e0465e"/>
<path d="M541.7 133.7 L541.7 128.1 M541.7 133.7 L536.3 132.0 M541.7 133.7 L538.4 138.2 M541.7 133.7 L544.9 138.2 M541.7 133.7 L547.0 132.0" fill="none" stroke="#e0465e"/>
<path d="M345.6 157.8 L340.3 161.7 L342.3 168.0 L348.9 168.0 L350.9 161.7Z" fill="none" stroke="#a65628" stroke-linejoin="miter"/>
<path d="M579.0 122.5 L573.7 126.4 L575.7 132.7 L582.3 132.7 L584.3 126.4Z" fill="none" stroke="#a65628" stroke-linejoin="miter"/>
<path d="M158.8 130.6 L163.0 136.2 L158.8 141.8 L154.6 136.2Z" fill="none" stroke="#ff7f00" stroke-linejoin="miter"/>
<path d="M392.3 210.4 L396.5 216.0 L392.3 221.6 L388.1 216.0Z" fill="none" stroke="#ff7f00" stroke-linejoin="miter"/>
<path d="M625.7 136.7 L629.9 142.3 L625.7 147.9 L621.5 142.3Z" fill="none" stroke="#ff7f00" stroke-linejoin="miter"/>
</g>
<text x="149.5" y="380.3" text-anchor="middle" class="t">0</text>
<text x="242.9" y="380.3" text-anchor="middle" class="t">1</text>
<text x="336.2" y="380.3" text-anchor="middle" class="t">2</text>
<text x="429.6" y="380.3" text-anchor="middle" class="t">3</text>
<text x="523.0" y="380.3" text-anchor="middle" class="t">4</text>
<text x="616.4" y="380.3" text-anchor="middle" class="t">5</text>
<text x="709.7" y="380.3" text-anchor="middle" class="t">6</text>
<text x="45.7" y="62.2" class="t">10</text><text x="73.4" y="51.4" class="s">6</text>
<text x="45.7" y="269.2" class="t">10</text><text x="73.4" y="258.4" class="s">5</text>
<circle cx="779.1" cy="372.4" r="1.45" fill="#000"/><text x="782.6" y="379.7" class="t">10</text><text x="809.4" y="369.1" class="s">5</text>
<text x="430" y="401.6" text-anchor="middle" class="t">timesteps</text>
<text transform="translate(26.4 176) rotate(-90)" text-anchor="middle" class="t">AMSE</text>
</svg>
</body></html>
